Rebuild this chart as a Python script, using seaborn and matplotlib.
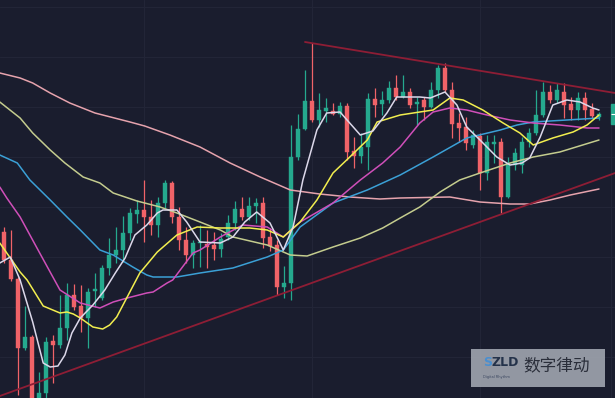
import numpy as np
import pandas as pd
import matplotlib
matplotlib.use("Agg")
import matplotlib.pyplot as plt
import seaborn as sns
from matplotlib.patches import Rectangle

# --- colours ---
BG = "#1a1d2e"
GRID = "#222537"
UP = "#25a98e"
DOWN = "#f06368"

# --- daily candles (arbitrary price units) ---
opens = [168, 140, 121, 52, 63, -6, 7, 59, 55, 72, 105, 94, 82, 109, 102, 132, 145, 150, 167, 186,
         190, 183, 175, 197, 217, 183, 160, 145, 157, 156, 155, 151, 163, 177, 191, 183, 194, 197, 163, 155,
         113, 117, 243, 271, 299, 280, 289, 289, 286, 294, 249, 244, 253, 301, 296, 300, 312, 303, 308, 296,
         300, 293, 310, 332, 310, 277, 273, 255, 264, 227, 256, 258, 203, 235, 235, 258, 267, 285, 308, 300,
         308, 296, 290, 302, 291, 283]
highs = [173, 170, 123, 94, 65, 28, 63, 65, 105, 117, 116, 115, 112, 127, 135, 162, 173, 184, 192, 200,
         220, 200, 203, 220, 219, 193, 173, 160, 175, 170, 168, 167, 185, 199, 203, 203, 202, 203, 172, 160,
         134, 275, 286, 330, 357, 307, 302, 297, 298, 297, 263, 267, 307, 312, 309, 319, 325, 325, 312, 303,
         303, 318, 335, 337, 318, 287, 283, 270, 267, 265, 265, 262, 243, 252, 263, 272, 310, 318, 315, 317,
         317, 303, 308, 308, 297, 288]
lows = [137, 119, 5, 50, -8, -10, 2, 17, 52, 60, 90, 68, 52, 93, 100, 125, 137, 138, 160, 177,
        158, 165, 163, 192, 177, 150, 137, 132, 133, 132, 140, 143, 160, 170, 180, 180, 177, 152, 149, 105,
        102, 100, 240, 270, 278, 273, 278, 285, 283, 240, 232, 237, 230, 283, 285, 297, 300, 302, 292, 275,
        280, 292, 302, 308, 262, 258, 250, 252, 210, 220, 237, 187, 202, 230, 227, 253, 265, 283, 297, 297,
        282, 280, 280, 280, 282, 280]
closes = [140, 121, 52, 63, -2, 7, 58, 55, 72, 105, 93, 82, 108, 111, 132, 145, 150, 167, 187, 190,
          183, 175, 197, 217, 183, 160, 145, 157, 158, 153, 151, 161, 177, 191, 183, 194, 197, 162, 154, 113,
          117, 243, 271, 299, 280, 290, 292, 286, 294, 248, 244, 253, 301, 295, 300, 312, 303, 308, 295, 298,
          293, 310, 332, 310, 276, 272, 257, 265, 227, 258, 258, 203, 237, 247, 258, 267, 285, 308, 300, 310,
          295, 290, 302, 290, 284, 286]

# --- moving averages (position in candle index, value) ---
ma5_pos = [-0.6, 0.9, 2.3, 4.1, 5.6, 6.6, 7.7, 8.7, 9.7, 10.9, 12.7, 14.4, 15.9, 17.3, 18.7, 20.4, 21.9,
           22.7, 24.7, 26.1, 28.0, 30.9, 32.7, 34.4, 36.1, 38.0, 39.9, 41.3, 42.7, 44.7, 46.1, 48.0, 50.9,
           52.7, 54.7, 56.1, 59.4, 60.9, 63.0, 64.7, 66.1, 68.0, 70.4, 72.3, 74.0, 75.1, 76.6, 78.4, 80.4,
           82.3, 84.1, 85.0]
ma5_val = [137, 143, 120, 78, 37, 33, 34, 45, 67, 82, 95, 110, 127, 142, 165, 175, 187,
           190, 190, 178, 158, 157, 163, 178, 188, 177, 150, 173, 220, 270, 287, 288, 265,
           269, 287, 303, 303, 302, 308, 295, 273, 260, 243, 235, 237, 242, 263, 295, 300,
           298, 292, 290]

ma10_pos = [-0.6, 0.9, 2.3, 3.3, 5.6, 8.0, 9.0, 9.9, 10.9, 12.7, 14.1, 15.1, 16.1, 17.6, 19.4, 21.9, 24.7,
            27.6, 30.9, 35.1, 37.6, 39.9, 42.3, 44.7, 47.0, 49.4, 51.9, 53.3, 56.6, 59.4, 61.3, 63.7, 65.6,
            68.4, 71.3, 73.7, 75.6, 78.4, 81.3, 83.3, 85.0]
ma10_val = [157, 142, 128, 120, 94, 87, 88, 86, 82, 73, 71, 75, 83, 103, 127, 148, 165,
            173, 172, 172, 170, 163, 178, 200, 227, 243, 260, 278, 285, 288, 290, 302, 300,
            290, 277, 267, 255, 262, 268, 275, 285]

ma20_pos = [-0.6, 0.4, 2.3, 5.1, 8.0, 10.9, 13.7, 15.6, 17.6, 20.4, 21.3, 23.3, 24.1, 27.0, 28.0, 30.9,
            34.1, 37.6, 39.9, 42.3, 47.0, 50.9, 54.1, 56.6, 59.4, 61.3, 63.7, 66.1, 69.0, 72.3, 75.6, 79.4,
            83.3, 85.0]
ma20_val = [213, 202, 183, 147, 110, 97, 92, 98, 102, 107, 108, 117, 120, 147, 150, 163,
            175, 173, 163, 178, 197, 220, 237, 253, 277, 288, 292, 290, 285, 280, 277, 275,
            272, 272]

ma30_pos = [-0.6, 1.9, 3.7, 6.6, 9.0, 10.9, 13.7, 15.6, 18.4, 20.4, 21.3, 24.7, 28.0, 32.7, 37.6, 39.9,
            42.3, 47.0, 51.9, 56.6, 61.3, 66.1, 70.9, 73.3, 75.6, 80.4, 85.0]
ma30_val = [245, 237, 220, 200, 183, 170, 150, 145, 133, 125, 123, 123, 127, 132, 143, 150,
            173, 197, 210, 225, 243, 262, 270, 275, 278, 280, 282]

ma60_pos = [-0.6, 2.3, 4.1, 6.6, 8.7, 11.3, 13.7, 15.6, 19.0, 22.3, 24.7, 28.0, 30.9, 32.7, 37.6, 40.9,
            43.3, 47.0, 50.9, 54.1, 56.6, 59.4, 62.3, 65.1, 68.0, 72.3, 75.6, 79.4, 85.0]
ma60_val = [298, 282, 267, 250, 237, 223, 217, 207, 199, 193, 187, 178, 170, 163, 155, 145,
            144, 153, 162, 172, 182, 193, 208, 220, 227, 237, 243, 248, 260]

ma120_pos = [-0.6, 2.3, 4.1, 6.6, 9.4, 13.0, 18.0, 20.1, 23.7, 28.0, 32.3, 36.6, 40.9, 45.1, 49.4, 53.7,
             56.6, 63.7, 68.0, 72.3, 75.1, 78.0, 80.9, 85.0]
ma120_val = [327, 322, 317, 307, 297, 287, 278, 274, 265, 253, 237, 223, 210, 206, 203, 201,
             202, 203, 198, 196, 196, 200, 205, 211]

# --- hand drawn trend lines ---
upper_pos = [43.0, 87.3]
upper_val = [358, 307]
lower_pos = [-0.6, 87.3]
lower_val = [4, 227]


def main():
    sns.set_theme(style="dark")
    plt.rcParams['font.family'] = ['Noto Sans CJK SC', 'DejaVu Sans']

    fig = plt.figure(figsize=(6.15, 3.98), dpi=100, facecolor=BG)
    ax = fig.add_axes([0, 0, 1, 1])
    ax.set_facecolor(BG)

    n = len(opens)
    df = pd.DataFrame({"idx": np.arange(n), "open": opens, "high": highs,
                       "low": lows, "close": closes})
    df["up"] = df["close"] >= df["open"]
    colors = np.where(df["up"], UP, DOWN)

    # wicks + bodies
    ax.vlines(df["idx"], df["low"], df["high"], colors=colors, linewidth=0.9, zorder=2)
    body_h = np.maximum((df["close"] - df["open"]).abs(), 1.2)
    body_b = np.minimum(df["open"], df["close"])
    ax.bar(df["idx"], body_h, bottom=body_b, width=0.62, color=colors,
           edgecolor=colors, linewidth=0.3, zorder=3)

    # moving averages
    lines = [
        (ma120_pos, ma120_val, "#e6a3ad"),
        (ma60_pos, ma60_val, "#c4cc8e"),
        (ma30_pos, ma30_val, "#3ba0d6"),
        (ma20_pos, ma20_val, "#cf4fb9"),
        (ma10_pos, ma10_val, "#f2ee4f"),
        (ma5_pos, ma5_val, "#dcd8ea"),
    ]
    for pos, val, col in lines:
        sns.lineplot(x=pos, y=val, ax=ax, color=col, linewidth=1.1,
                     estimator=None, zorder=4)

    # trend lines
    sns.lineplot(x=upper_pos, y=upper_val, ax=ax, color="#8e1d35", linewidth=1.3, zorder=5)
    sns.lineplot(x=lower_pos, y=lower_val, ax=ax, color="#8e1d35", linewidth=1.3, zorder=5)

    ax.set_xlim(-4 / 7, 611 / 7)
    ax.set_ylim(2, 400)

    # faint grid
    ax.set_xticks([20, 44, 68, 86.7])
    ax.set_yticks([43, 93, 143, 193, 243, 293, 343, 393])
    ax.grid(True, color=GRID, linewidth=0.8)
    ax.tick_params(length=0, labelbottom=False, labelleft=False)
    for s in ax.spines.values():
        s.set_visible(False)

    # last price tag at the right edge
    last = closes[-1]
    ax.add_patch(Rectangle((86.65, last - 10), 1.0, 20, color=UP, zorder=6, clip_on=True))
    ax.hlines(last, 86.65, 87.4, color="white", linewidth=0.8, zorder=7)

    # watermark
    ax.add_patch(Rectangle((0.766, 0.028), 0.218, 0.095, transform=ax.transAxes,
                           facecolor="#a0a5b0", alpha=0.9, edgecolor="none", zorder=8))
    ax.text(0.785, 0.088, "S", transform=ax.transAxes, fontsize=9, fontweight="bold",
            color="#4a8fd0", ha="left", va="center", family=["DejaVu Sans"], zorder=9)
    ax.text(0.800, 0.088, "ZLD", transform=ax.transAxes, fontsize=9, fontweight="bold",
            color="#24324a", ha="left", va="center", family=["DejaVu Sans"], zorder=9)
    ax.text(0.808, 0.052, "Digital Rhythm", transform=ax.transAxes, fontsize=2.5,
            color="#3a4660", ha="center", va="center", family=["DejaVu Sans"], zorder=9)
    ax.text(0.905, 0.082, "数字律动", transform=ax.transAxes, fontsize=12,
            color="#2a2e3a", ha="center", va="center", zorder=9)

    fig.savefig("out.png", dpi=100, facecolor=BG)
    plt.close(fig)


if __name__ == "__main__":
    main()
